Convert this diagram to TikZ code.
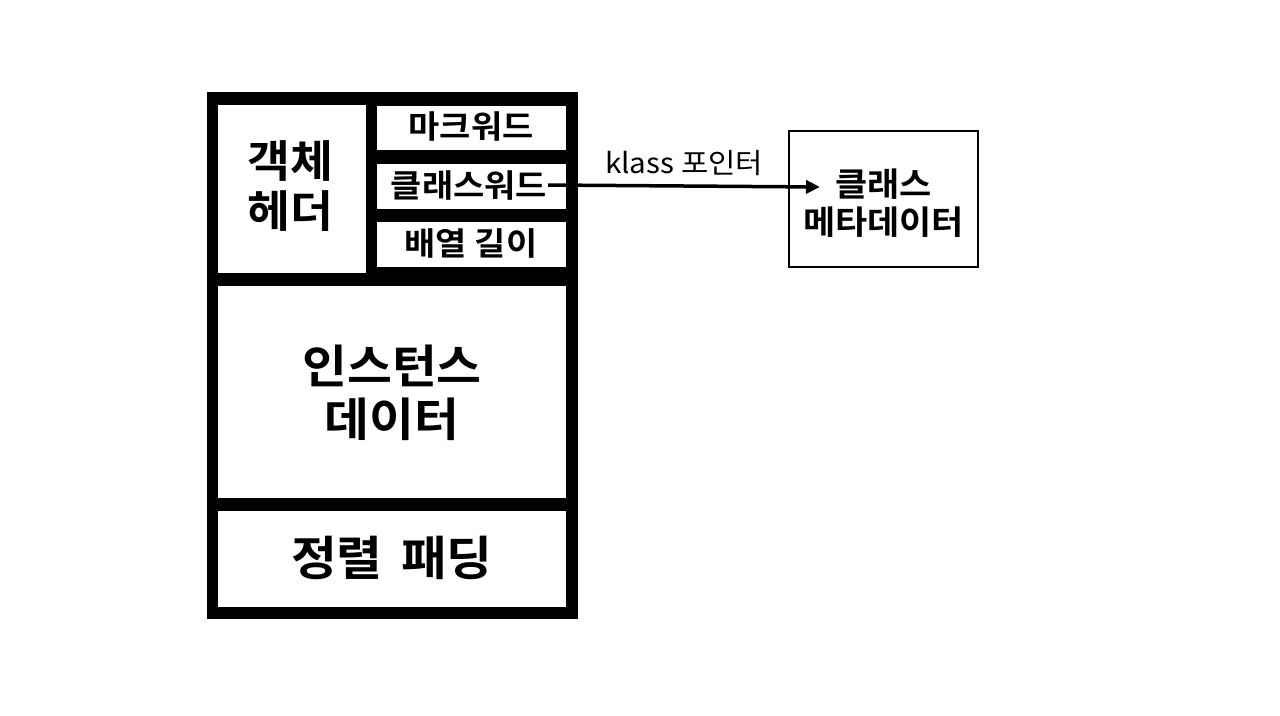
\documentclass[tikz,border=0pt]{standalone}
\usepackage{fontspec}
\setmainfont{Noto Sans CJK KR}[BoldFont={* Bold},FakeStretch=1.06]
\usetikzlibrary{arrows.meta}
\begin{document}
\begin{tikzpicture}[x=1pt,y=-1pt,
  cell/.style={fill=white,draw=none},
  big/.style={font=\fontsize{44}{50}\selectfont\bfseries,align=center,inner sep=0},
  small/.style={font=\fontsize{32}{34}\selectfont\bfseries,inner sep=0},
  meta/.style={font=\fontsize{33}{38}\selectfont\bfseries,align=center,inner sep=0},
  lbl/.style={font=\fontsize{28}{30}\selectfont,inner sep=0},
  conn/.style={line width=3.5pt,-{Triangle[length=14pt,width=13pt]}}]
\useasboundingbox (0,0) rectangle (1280,715);
\fill[white] (0,0) rectangle (1280,715);
\fill[black] (207,92) rectangle (578,619);
\fill[cell] (218,105) rectangle (366,273);
\fill[cell] (377,106) rectangle (566,150);
\fill[cell] (377,164) rectangle (566,209);
\fill[cell] (377,222) rectangle (566,267);
\fill[cell] (218,286) rectangle (566,498);
\fill[cell] (218,511) rectangle (566,607);
\node[big] (hdr) at (290,186) {객체\\헤더};
\node[small] (mw) at (471,127) {마크워드};
\node[small] (cw) at (469,185) {클래스워드};
\node[small] (al) at (471,244) {배열 길이};
\node[big,font=\fontsize{46}{53}\selectfont\bfseries] (inst) at (392,393) {인스턴스\\데이터};
\node[big,font=\fontsize{47}{53}\selectfont\bfseries] (pad) at (392,558) {정렬\hspace{0.15em} 패딩};
\node[draw,line width=1.5pt,minimum width=189pt,minimum height=136pt,inner sep=0] (mbox) at (883.5,199) {};
\node[meta] (mtext) at (883.5,203) {클래스\\메타데이터};
\coordinate (tip) at (820,187);
\draw[conn] (cw.east) ++(1,0) coordinate (start) -- (tip) node[midway,above=9pt,lbl] (kp) {klass 포인터};
\end{tikzpicture}
\end{document}
